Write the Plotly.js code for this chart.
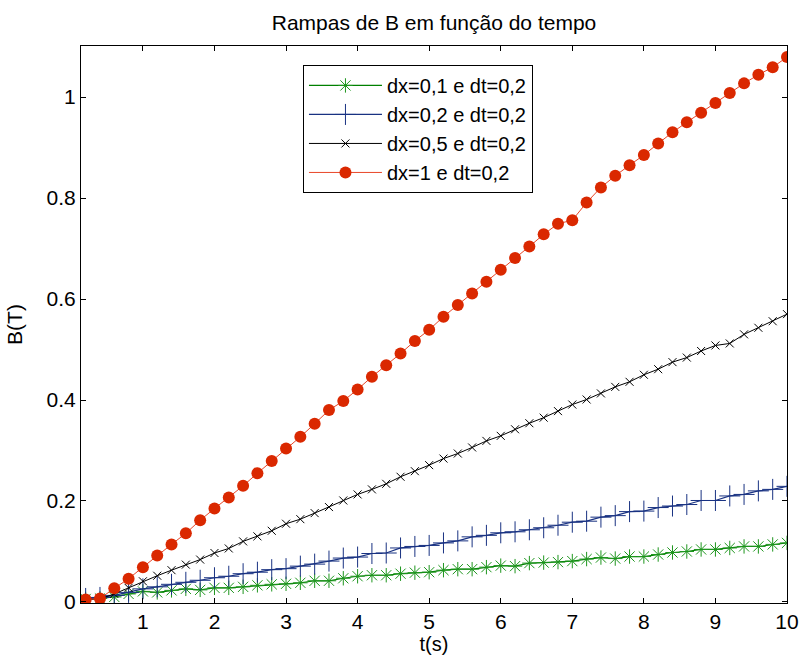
<!DOCTYPE html>
<html>
<head>
<meta charset="utf-8">
<script src="https://cdn.plot.ly/plotly-3.0.1.min.js"></script>
<style>
html,body{margin:0;padding:0;background:#fff;}
#chart{width:799px;height:659px;}
</style>
</head>
<body>
<div id="chart"></div>
<script>
// time values (s)
const t = [0.2,0.4,0.6,0.8,1.0,1.2,1.4,1.6,1.8,2.0,2.2,2.4,2.6,2.8,3.0,3.2,3.4,3.6,3.8,4.0,
           4.2,4.4,4.6,4.8,5.0,5.2,5.4,5.6,5.8,6.0,6.2,6.4,6.6,6.8,7.0,7.2,7.4,7.6,7.8,8.0,
           8.2,8.4,8.6,8.8,9.0,9.2,9.4,9.6,9.8,10.0];

// dx=0,1 e dt=0,2
const bDx01 = [0.006,0.007,0.010,0.016,0.021,0.019,0.023,0.026,0.024,0.028,0.028,0.030,0.033,0.035,0.036,0.038,0.042,0.042,0.047,0.051,
               0.053,0.053,0.056,0.058,0.059,0.063,0.065,0.065,0.069,0.072,0.071,0.077,0.078,0.079,0.081,0.085,0.088,0.086,0.090,0.090,
               0.094,0.098,0.100,0.104,0.104,0.107,0.110,0.110,0.114,0.117];
// dx=0,2 e dt=0,2
const bDx02 = [0.007,0.009,0.013,0.019,0.026,0.030,0.035,0.039,0.043,0.048,0.051,0.056,0.059,0.064,0.066,0.071,0.075,0.081,0.087,0.089,
               0.096,0.097,0.107,0.110,0.112,0.117,0.121,0.129,0.132,0.137,0.139,0.143,0.147,0.152,0.158,0.160,0.168,0.171,0.179,0.180,
               0.187,0.190,0.193,0.201,0.201,0.210,0.213,0.220,0.223,0.229];
// dx=0,5 e dt=0,2
const bDx05 = [0.005,0.006,0.016,0.028,0.041,0.052,0.063,0.074,0.084,0.097,0.106,0.120,0.130,0.141,0.155,0.164,0.176,0.188,0.201,0.213,
               0.223,0.234,0.248,0.259,0.271,0.284,0.294,0.306,0.319,0.329,0.342,0.354,0.365,0.378,0.391,0.401,0.413,0.426,0.436,0.450,
               0.461,0.475,0.484,0.497,0.508,0.512,0.530,0.543,0.556,0.570];
// dx=1 e dt=0,2
const bDx1 = [0.005,0.007,0.027,0.046,0.069,0.092,0.114,0.136,0.162,0.185,0.207,0.230,0.255,0.279,0.304,0.327,0.353,0.380,0.398,0.421,
              0.446,0.469,0.492,0.517,0.539,0.565,0.588,0.611,0.634,0.658,0.681,0.704,0.728,0.749,0.756,0.791,0.821,0.844,0.865,0.885,
              0.908,0.930,0.950,0.969,0.988,1.008,1.027,1.044,1.059,1.079];

const seriesNames = ['dx=0,1 e dt=0,2','dx=0,2 e dt=0,2','dx=0,5 e dt=0,2','dx=1 e dt=0,2'];
const xTicks = [1,2,3,4,5,6,7,8,9,10];
const yTicks = [0,0.2,0.4,0.6,0.8,1];
const titleText = 'Rampas de B em função do tempo';
const xLabel = 't(s)';
const yLabel = 'B(T)';

const FONT = '"Liberation Sans", Arial, Helvetica, sans-serif';

const traces = [
  {x:t, y:bDx01, name:seriesNames[0], mode:'lines+markers', type:'scatter',
   line:{color:'rgb(0,128,0)', width:1.2},
   marker:{symbol:'asterisk-open', size:12, color:'rgb(30,150,30)', line:{color:'rgb(30,150,30)', width:1}}},
  {x:t, y:bDx02, name:seriesNames[1], mode:'lines+markers', type:'scatter',
   line:{color:'rgb(25,50,130)', width:1.2},
   marker:{symbol:'cross-thin-open', size:15, color:'rgb(25,50,130)', line:{color:'rgb(25,50,130)', width:1}}},
  {x:t, y:bDx05, name:seriesNames[2], mode:'lines+markers', type:'scatter',
   line:{color:'rgb(0,0,0)', width:1},
   marker:{symbol:'x-thin-open', size:8, color:'rgb(0,0,0)', line:{color:'rgb(0,0,0)', width:1}}},
  {x:t, y:bDx1, name:seriesNames[3], mode:'lines+markers', type:'scatter',
   line:{color:'rgb(232,70,40)', width:1},
   marker:{symbol:'circle', size:12, color:'rgb(218,40,0)', line:{width:0}}}
];

const layout = {
  width:799, height:659,
  margin:{l:81, r:12, t:46, b:56},
  paper_bgcolor:'#fff', plot_bgcolor:'#fff',
  font:{family:FONT, color:'#000', size:21},
  title:{text:titleText, font:{family:FONT, size:21, color:'#000'}, x:0.5, xanchor:'center', y:0.966, yanchor:'middle', xref:'paper'},
  xaxis:{range:[0.135,10], tickvals:xTicks, ticks:'inside', ticklen:5, tickcolor:'#000',
         showline:true, linecolor:'#000', linewidth:1, mirror:'allticks', showgrid:false, zeroline:false,
         tickfont:{family:FONT, size:21}, title:{text:xLabel, font:{family:FONT, size:20}, standoff:2}},
  yaxis:{range:[-0.002,1.101], tickvals:yTicks, ticks:'inside', ticklen:5, tickcolor:'#000',
         showline:true, linecolor:'#000', linewidth:1, mirror:'allticks', showgrid:false, zeroline:false,
         tickfont:{family:FONT, size:21}, title:{text:yLabel, font:{family:FONT, size:21}, standoff:18}},
  legend:{x:0.3144, y:0.966, xanchor:'left', yanchor:'top', bgcolor:'#fff', bordercolor:'#000', borderwidth:1,
          font:{family:FONT, size:20}, itemwidth:73, tracegroupgap:0},
  showlegend:true
};

Plotly.newPlot('chart', traces, layout, {displayModeBar:false, staticPlot:true});
</script>
</body>
</html>
